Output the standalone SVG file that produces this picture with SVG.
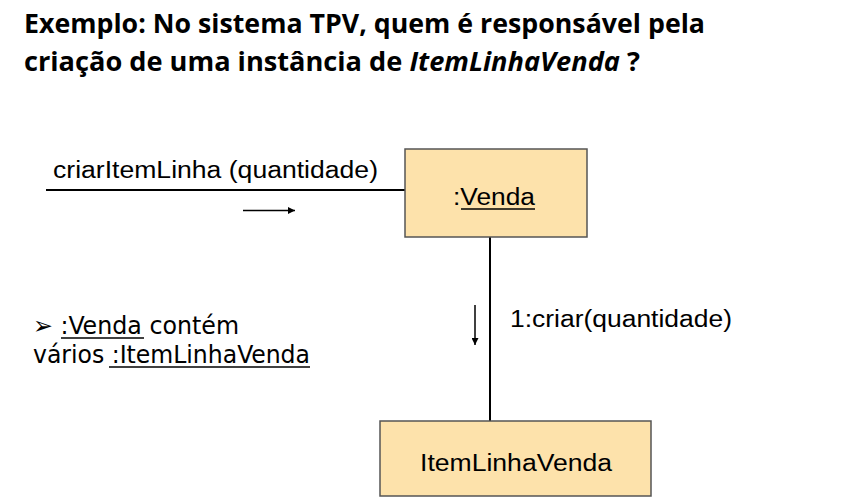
<svg xmlns="http://www.w3.org/2000/svg" width="852" height="504" viewBox="0 0 852 504">
<style>
.title{font-family:"Open Sans","Liberation Sans",sans-serif;font-weight:bold;font-size:27px;fill:#000}
.lbl{font-family:"Liberation Sans",Arial,sans-serif;font-size:23px;fill:#000}
.note{font-family:"DejaVu Sans Condensed","DejaVu Sans",sans-serif;font-size:25px;fill:#000}
.box{fill:#FDE2AB;stroke:#555;stroke-width:1.5}
.ln{stroke:#000;stroke-width:2;fill:none}
.ul{stroke:#000;stroke-width:1.5}
</style>
<defs>
<marker id="ah" viewBox="0 0 10 10" refX="10" refY="5" markerWidth="8" markerHeight="7" orient="auto" markerUnits="userSpaceOnUse">
<path d="M0,0 L10,5 L0,10 z" fill="#000"/>
</marker>
</defs>
<rect width="852" height="504" fill="#fff"/>
<text class="title" x="24" y="33" textLength="681" lengthAdjust="spacingAndGlyphs">Exemplo: No sistema TPV, quem é responsável pela</text>
<text class="title" x="24" y="71" textLength="616" lengthAdjust="spacingAndGlyphs">criação de uma instância de <tspan font-style="italic">ItemLinhaVenda</tspan> ?</text>

<g id="connectors">
<line class="ln" x1="46" y1="190" x2="405" y2="190"/>
<line class="ln" x1="490" y1="237" x2="490" y2="421"/>
<line x1="243" y1="210.5" x2="295" y2="210.5" stroke="#000" stroke-width="1.5" marker-end="url(#ah)"/>
<line x1="475" y1="305" x2="475" y2="345" stroke="#000" stroke-width="1.5" marker-end="url(#ah)"/>
<text class="lbl" x="53" y="178" textLength="325" lengthAdjust="spacingAndGlyphs">criarItemLinha (quantidade)</text>
<text class="lbl" x="510" y="327" textLength="222" lengthAdjust="spacingAndGlyphs">1:criar(quantidade)</text>
</g>

<g id="venda">
<rect class="box" x="405" y="149" width="182" height="88"/>
<text class="lbl" x="453" y="205" textLength="82" lengthAdjust="spacingAndGlyphs">:Venda</text>
<line class="ul" x1="461" y1="209" x2="535" y2="209"/>
</g>

<g id="itemLinhaVenda">
<rect class="box" x="380" y="421" width="271" height="75"/>
<text class="lbl" x="420" y="471" textLength="192" lengthAdjust="spacingAndGlyphs">ItemLinhaVenda</text>
</g>

<g id="note">
<text class="note" x="33" y="334" textLength="206" lengthAdjust="spacingAndGlyphs">➢ :Venda contém</text>
<line class="ul" x1="61" y1="338" x2="144" y2="338"/>
<text class="note" x="33" y="363" textLength="277" lengthAdjust="spacingAndGlyphs">vários :ItemLinhaVenda</text>
<line class="ul" x1="109" y1="367" x2="310" y2="367"/>
</g>
</svg>
